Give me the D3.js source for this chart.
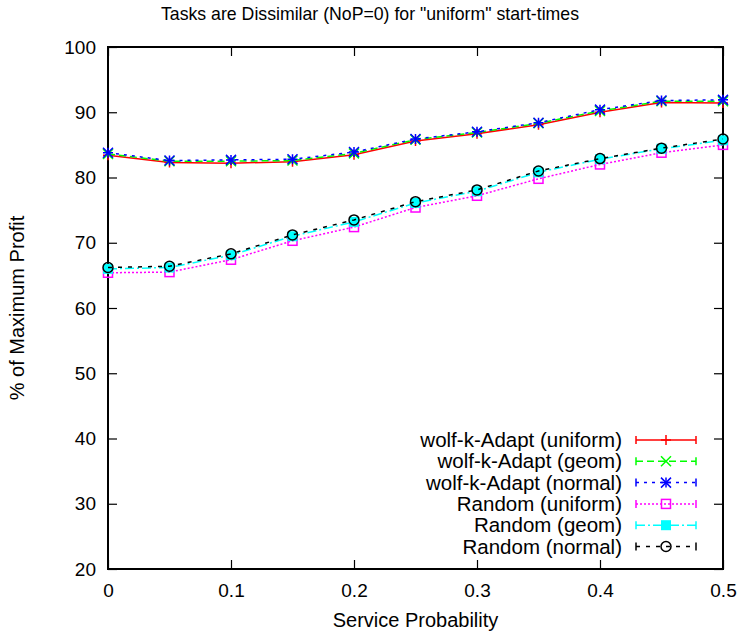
<!DOCTYPE html>
<html>
<head>
<meta charset="utf-8">
<script src="https://cdn.jsdelivr.net/npm/d3@7"></script>
<style>
  body { margin: 0; background: #fff; }
  svg { font-family: "Liberation Sans", Arial, sans-serif; }
</style>
</head>
<body>
<svg width="741" height="637"></svg>
<script>
// service probability values
var probs = [0, 0.05, 0.1, 0.15, 0.2, 0.25, 0.3, 0.35, 0.4, 0.45, 0.5]

var wolfUniform = [83.4, 82.3, 82.2, 82.4, 83.5, 85.6, 86.7, 88.1, 90.0, 91.5, 91.4]
var wolfGeom    = [83.6, 82.5, 82.5, 82.6, 83.7, 85.8, 86.9, 88.3, 90.2, 91.7, 91.7]
var wolfNormal  = [83.8, 82.6, 82.7, 82.8, 83.9, 85.9, 87.0, 88.4, 90.4, 91.8, 91.9]
var randUniform = [65.4, 65.5, 67.4, 70.3, 72.4, 75.4, 77.2, 79.8, 82.0, 83.8, 85.0]
var randGeom    = [66.0, 66.2, 68.1, 71.0, 73.2, 76.1, 77.9, 80.8, 82.8, 84.4, 85.7]
var randNormal  = [66.2, 66.4, 68.3, 71.2, 73.5, 76.3, 78.1, 81.0, 82.9, 84.5, 85.9]

var seriesNames = ["wolf-k-Adapt (uniform)", "wolf-k-Adapt (geom)", "wolf-k-Adapt (normal)",
                   "Random (uniform)", "Random (geom)", "Random (normal)"]

var xTicks = [0, 0.1, 0.2, 0.3, 0.4, 0.5]
var yTicks = [20, 30, 40, 50, 60, 70, 80, 90, 100]

var styles = [
  {color: "#ff0000", dash: null,      marker: "plus"},
  {color: "#00ff00", dash: "7,4",     marker: "cross"},
  {color: "#0000ff", dash: "3,5",     marker: "star"},
  {color: "#ff00ff", dash: "2,2",     marker: "square"},
  {color: "#00ffff", dash: "9,3,2,3", marker: "filledSquare"},
  {color: "#000000", dash: "4,6",     marker: "circle"}
]

var allSeries = [wolfUniform, wolfGeom, wolfNormal, randUniform, randGeom, randNormal]

var margin = {left: 108, right: 18, top: 47, bottom: 68}
var width = 741 - margin.left - margin.right
var height = 637 - margin.top - margin.bottom

var svg = d3.select("svg")
var g = svg.append("g").attr("transform", "translate(" + margin.left + "," + margin.top + ")")

var x = d3.scaleLinear().domain([0, 0.5]).range([0, width])
var y = d3.scaleLinear().domain([20, 100]).range([height, 0])

// axes, gnuplot style ticks pointing inward
var tickLen = 9
g.append("g").attr("transform", "translate(0," + height + ")")
  .call(d3.axisBottom(x).tickValues(xTicks).tickSizeInner(-tickLen).tickSizeOuter(0).tickPadding(15)
    .tickFormat(function(d){ return d === 0 ? "0" : d3.format(".1f")(d) }))
g.append("g")
  .call(d3.axisTop(x).tickValues(xTicks).tickSizeInner(-tickLen).tickSizeOuter(0).tickFormat(""))
g.append("g")
  .call(d3.axisLeft(y).tickValues(yTicks).tickSizeInner(-tickLen).tickSizeOuter(0).tickPadding(12))
g.append("g").attr("transform", "translate(" + width + ",0)")
  .call(d3.axisRight(y).tickValues(yTicks).tickSizeInner(-tickLen).tickSizeOuter(0).tickFormat(""))

g.selectAll(".domain").remove()
g.selectAll(".tick line").attr("stroke", "#000").attr("stroke-width", 1.2)
g.selectAll(".tick text").attr("font-size", 19).attr("fill", "#000")
  .attr("font-family", "Liberation Sans, Arial, sans-serif")

g.append("rect").attr("width", width).attr("height", height)
  .attr("fill", "none").attr("stroke", "#000").attr("stroke-width", 2)

var drawMarker = function(sel, type, color) {
  var s = 5
  if (type == "plus" || type == "star") {
    sel.append("path").attr("d", "M" + (-s) + ",0H" + s + "M0," + (-s) + "V" + s)
      .attr("stroke", color).attr("stroke-width", 1.5)
  }
  if (type == "cross" || type == "star") {
    sel.append("path").attr("d", "M" + (-s) + "," + (-s) + "L" + s + "," + s + "M" + (-s) + "," + s + "L" + s + "," + (-s))
      .attr("stroke", color).attr("stroke-width", 1.5)
  }
  if (type == "square") {
    sel.append("rect").attr("x", -4.5).attr("y", -4.5).attr("width", 9).attr("height", 9)
      .attr("fill", "none").attr("stroke", color).attr("stroke-width", 1.5)
  }
  if (type == "filledSquare") {
    sel.append("rect").attr("x", -5).attr("y", -5).attr("width", 10).attr("height", 10)
      .attr("fill", color)
  }
  if (type == "circle") {
    sel.append("circle").attr("r", 5)
      .attr("fill", "none").attr("stroke", color).attr("stroke-width", 1.5)
  }
}

var line = d3.line().x(function(d){ return x(d[0]) }).y(function(d){ return y(d[1]) })

allSeries.forEach(function(vals, i){
  var st = styles[i]
  var pts = probs.map(function(p, j){ return [p, vals[j]] })
  g.append("path").datum(pts)
    .attr("d", line)
    .attr("fill", "none")
    .attr("stroke", st.color)
    .attr("stroke-width", 1.5)
    .attr("stroke-dasharray", st.dash)
  pts.forEach(function(p){
    var m = g.append("g").attr("transform", "translate(" + x(p[0]) + "," + y(p[1]) + ")")
    drawMarker(m, st.marker, st.color)
  })
})

// legend
var legX = 622, legY = 440, legStep = 21.3
seriesNames.forEach(function(name, i){
  var st = styles[i]
  var yy = legY + i * legStep
  svg.append("text").attr("x", legX).attr("y", yy)
    .attr("text-anchor", "end").attr("dy", "0.35em")
    .attr("font-size", 20.5).text(name)
  svg.append("path").attr("d", "M636," + yy + "H696")
    .attr("stroke", st.color).attr("stroke-width", 1.5)
    .attr("stroke-dasharray", st.dash).attr("fill", "none")
  svg.append("path").attr("d", "M636," + (yy - 4) + "V" + (yy + 4) + "M696," + (yy - 4) + "V" + (yy + 4))
    .attr("stroke", st.color).attr("stroke-width", 1.5)
  var m = svg.append("g").attr("transform", "translate(666," + yy + ")")
  drawMarker(m, st.marker, st.color)
})

// titles
svg.append("text").attr("x", 370).attr("y", 20).attr("text-anchor", "middle")
  .attr("font-size", 17.7).text("Tasks are Dissimilar (NoP=0) for \"uniform\" start-times")
svg.append("text").attr("x", margin.left + width / 2).attr("y", 627).attr("text-anchor", "middle")
  .attr("font-size", 20).text("Service Probability")
svg.append("text").attr("transform", "translate(24," + (margin.top + height / 2) + ") rotate(-90)")
  .attr("text-anchor", "middle").attr("font-size", 20).text("% of Maximum Profit")
</script>
</body>
</html>
